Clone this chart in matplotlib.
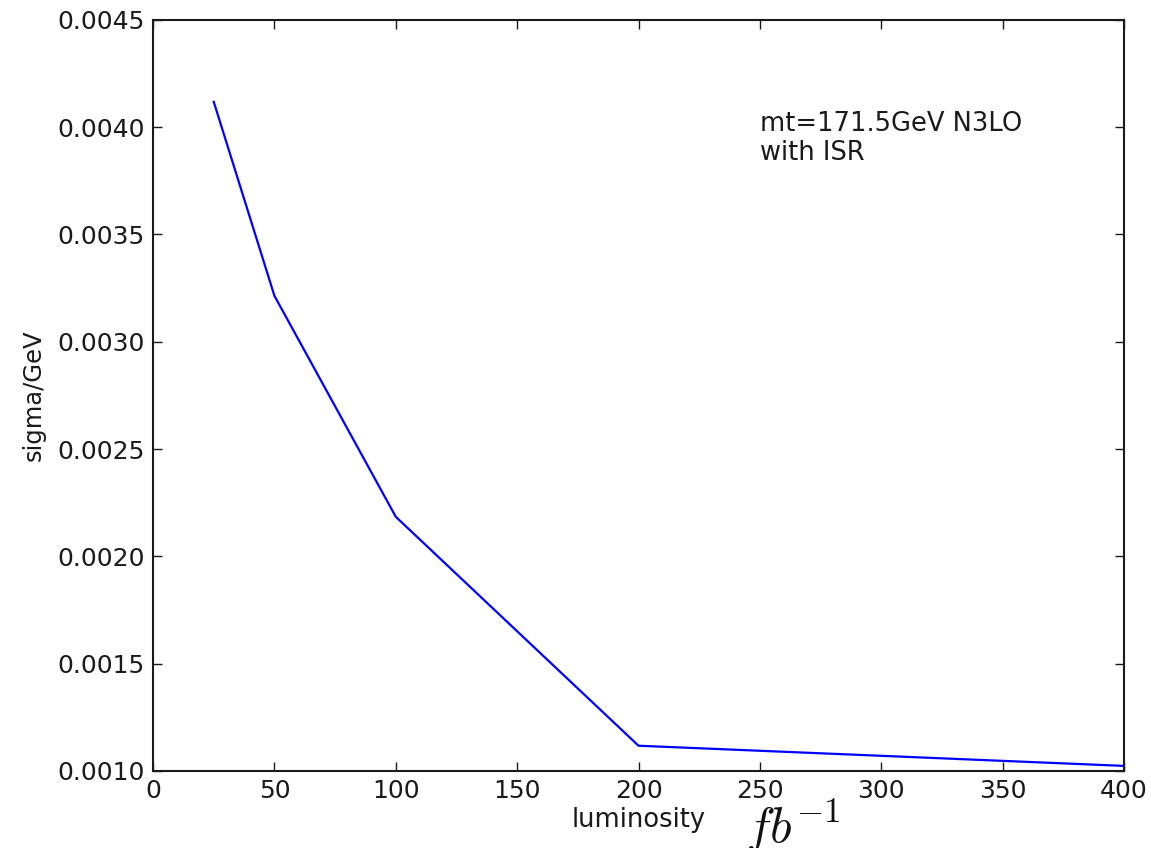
import matplotlib
matplotlib.use('Agg')
import matplotlib.pyplot as plt

luminosity = [25, 50, 100, 200, 400]
sigma = [0.004118, 0.003214, 0.002184, 0.001117, 0.001023]

xticks = [0, 50, 100, 150, 200, 250, 300, 350, 400]
yticks = [0.0010, 0.0015, 0.0020, 0.0025, 0.0030, 0.0035, 0.0040, 0.0045]

fig = plt.figure(figsize=(11.51, 8.48), dpi=100)
ax = fig.add_axes([0.133, 0.091, 0.8435, 0.8855])
ax.plot(luminosity, sigma, color='b', linewidth=1.6)

ax.set_xlim(0, 400)
ax.set_ylim(0.0010, 0.0045)
ax.set_xticks(xticks)
ax.set_yticks(yticks)
ax.set_yticklabels(['%.4f' % v for v in yticks])
ax.tick_params(direction='in', top=True, right=True, length=6.5, width=1,
               labelsize=18, pad=6, colors='#1a1a1a', labelcolor='#1a1a1a')
for s in ax.spines.values():
    s.set_linewidth(1.5)
    s.set_color('#1a1a1a')

ax.set_xlabel('luminosity', fontsize=18.5, color='#1a1a1a', labelpad=3)
ax.set_ylabel('sigma/GeV', fontsize=17.5, color='#1a1a1a', labelpad=8)

ax.text(0.625, 0.879, 'mt=171.5GeV N3LO\nwith ISR', transform=ax.transAxes,
        fontsize=18.5, color='#1a1a1a', va='top', ha='left', linespacing=1.15)

fig.text(0.689, 0.007, r'$fb^{-1}$', fontsize=36, math_fontfamily='cm',
         ha='center', va='baseline', color='#111111')

plt.savefig('out.png', dpi=100)
